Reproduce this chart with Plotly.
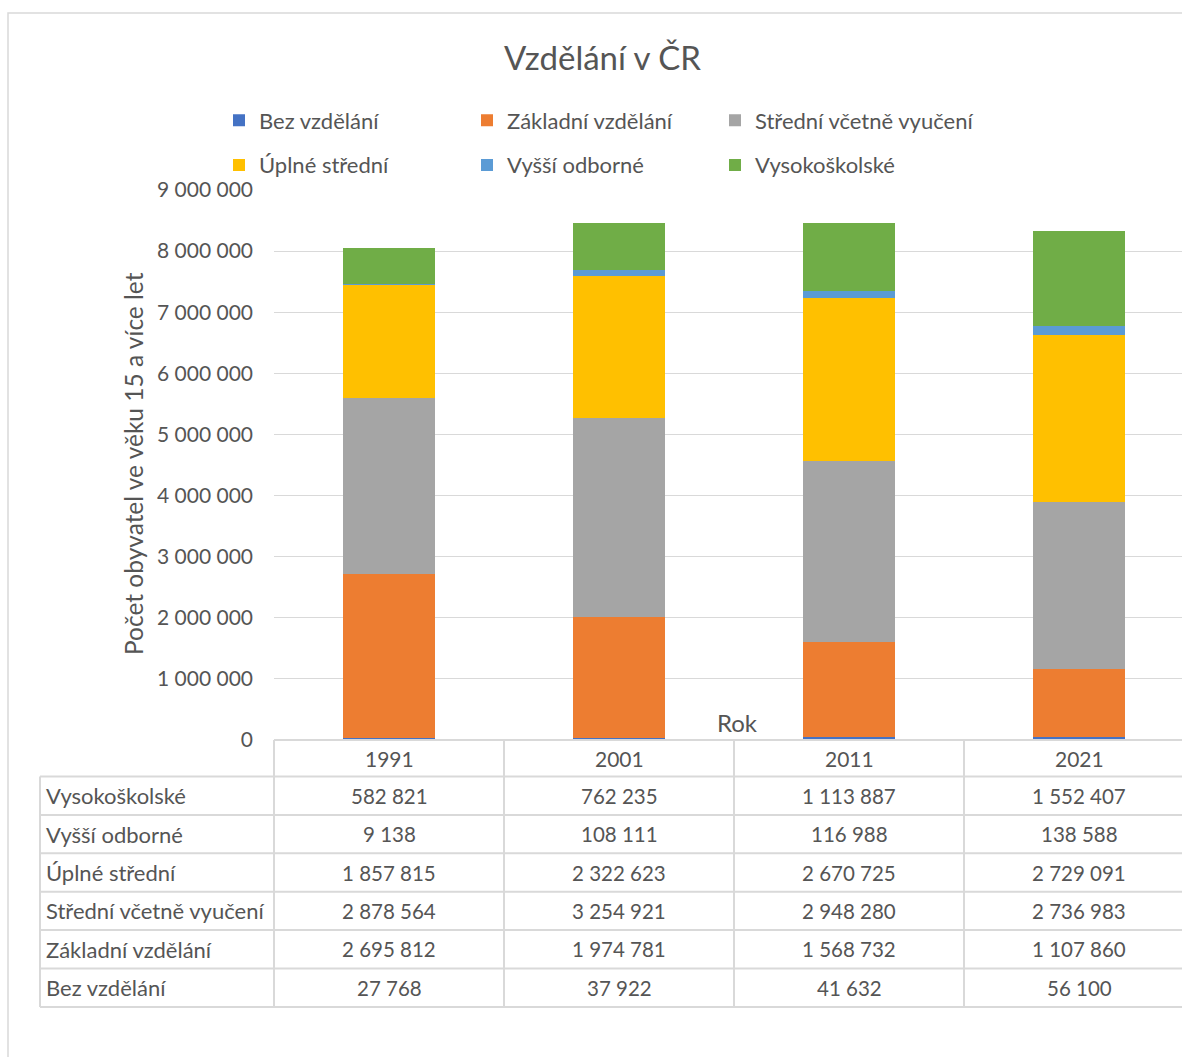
import plotly.graph_objects as go

# ---------------- data ----------------
years = ["1991", "2001", "2011", "2021"]
series_names = ["Bez vzdělání", "Základní vzdělání", "Střední včetně vyučení",
                "Úplné střední", "Vyšší odborné", "Vysokoškolské"]
bez_vzdelani = [27768, 37922, 41632, 56100]
zakladni = [2695812, 1974781, 1568732, 1107860]
stredni_vcetne_vyuceni = [2878564, 3254921, 2948280, 2736983]
uplne_stredni = [1857815, 2322623, 2670725, 2729091]
vyssi_odborne = [9138, 108111, 116988, 138588]
vysokoskolske = [582821, 762235, 1113887, 1552407]
y_tick_values = [0, 1000000, 2000000, 3000000, 4000000, 5000000,
                 6000000, 7000000, 8000000, 9000000]
title_text = "Vzdělání v ČR"
y_title = "Počet obyvatel ve věku 15 a více let"
x_title = "Rok"

series_values = [bez_vzdelani, zakladni, stredni_vcetne_vyuceni,
                 uplne_stredni, vyssi_odborne, vysokoskolske]
colors = ["#4472C4", "#ED7D31", "#A5A5A5", "#FFC000", "#5B9BD5", "#70AD47"]

# ---------------- layout geometry ----------------
W, H = 1182, 1057
L, T = 274, 190          # plot area left / top (px)
PB = 740                 # plot area bottom (px)
PW = W - L
PH = PB - T
CAT_W = 230              # px per category
X_RANGE = [-0.5, -0.5 + PW / CAT_W]

FONT = "Lato, 'Open Sans', sans-serif"
TXT = "#555555"
GRID = "#D9D9D9"


def px_x(px):
    return (px - L) / PW


def px_y(py):
    return (PB - py) / PH


def cat_x(d):
    return (d - X_RANGE[0]) / (X_RANGE[1] - X_RANGE[0])


def fmt(v):
    return f"{v:,}".replace(",", " ")


# legend layout: 3 columns x 2 rows, one vertical legend per column
legend_ids = ["legend", "legend2", "legend3"]

fig = go.Figure()
for i, (name, vals, col) in enumerate(zip(series_names, series_values, colors)):
    fig.add_trace(go.Bar(
        x=years, y=vals, name=name,
        marker=dict(color=col, line=dict(width=0)),
        legend=legend_ids[i % 3],
        legendgroup=f"g{i}",
        legendrank=i,
        hovertemplate="%{x}: %{y:,}<extra>" + name + "</extra>",
    ))

shapes = []
annotations = []

# outer chart border
shapes.append(dict(type="rect", xref="paper", yref="paper",
                   x0=px_x(8), x1=px_x(W + 20), y0=px_y(13), y1=px_y(H + 20),
                   line=dict(color=GRID, width=1.5), layer="below"))

# ---------------- data table ----------------
row_h = 38.4
header_top = PB
header_bot = 776.5
n_rows = len(series_names)
table_bottom = header_bot + n_rows * row_h
label_left = 40
right_edge = W + 20
line_style = dict(color=GRID, width=2)

# horizontal lines
shapes.append(dict(type="line", xref="paper", yref="paper",
                   x0=px_x(L), x1=px_x(right_edge), y0=px_y(header_top), y1=px_y(header_top),
                   line=line_style))
for k in range(n_rows + 1):
    yy = header_bot + k * row_h
    shapes.append(dict(type="line", xref="paper", yref="paper",
                       x0=px_x(label_left), x1=px_x(right_edge), y0=px_y(yy), y1=px_y(yy),
                       line=line_style))
# vertical lines
shapes.append(dict(type="line", xref="paper", yref="paper",
                   x0=px_x(label_left), x1=px_x(label_left),
                   y0=px_y(header_bot), y1=px_y(table_bottom), line=line_style))
for j in range(len(years) + 1):
    xx = cat_x(-0.5 + j)
    shapes.append(dict(type="line", xref="paper", yref="paper",
                       x0=xx, x1=xx, y0=px_y(header_top), y1=px_y(table_bottom),
                       line=line_style))

# header labels
for j, yr in enumerate(years):
    annotations.append(dict(x=cat_x(j), y=px_y((header_top + header_bot) / 2),
                            xref="paper", yref="paper", text=yr, showarrow=False,
                            xanchor="center", yanchor="middle",
                            font=dict(family=FONT, size=21, color=TXT)))
# rows (reverse order of series)
for r, s in enumerate(reversed(range(n_rows))):
    yc = header_bot + (r + 0.5) * row_h
    annotations.append(dict(x=px_x(44), y=px_y(yc), xref="paper", yref="paper",
                            text=series_names[s], showarrow=False,
                            xanchor="left", yanchor="middle",
                            font=dict(family=FONT, size=22, color=TXT)))
    for j in range(len(years)):
        annotations.append(dict(x=cat_x(j), y=px_y(yc), xref="paper", yref="paper",
                                text=fmt(series_values[s][j]), showarrow=False,
                                xanchor="center", yanchor="middle",
                                font=dict(family=FONT, size=20.5, color=TXT)))

# axis titles
annotations.append(dict(x=px_x(133), y=px_y(464), xref="paper", yref="paper",
                        text=y_title, textangle=-90, showarrow=False,
                        xanchor="center", yanchor="middle",
                        font=dict(family=FONT, size=24.5, color=TXT)))
annotations.append(dict(x=px_x(737), y=px_y(722), xref="paper", yref="paper",
                        text=x_title, showarrow=False,
                        xanchor="center", yanchor="middle",
                        font=dict(family=FONT, size=24, color=TXT)))
# title
annotations.append(dict(x=px_x(602), y=px_y(57), xref="paper", yref="paper",
                        text=title_text, showarrow=False,
                        xanchor="center", yanchor="middle",
                        font=dict(family=FONT, size=33, color=TXT)))

legend_common = dict(orientation="v", xanchor="left", yanchor="middle",
                     bgcolor="rgba(0,0,0,0)", tracegroupgap=13,
                     font=dict(family=FONT, size=22, color=TXT),
                     traceorder="grouped", itemclick=False, itemdoubleclick=False)
legend_x0 = 219
legend_step = 248
legend_yc = 143

fig.update_layout(
    width=W, height=H,
    margin=dict(l=L, r=0, t=T, b=H - PB, pad=0),
    paper_bgcolor="white", plot_bgcolor="white",
    barmode="stack", bargap=0.6,
    separators=", ",
    showlegend=True,
    legend=dict(x=px_x(legend_x0), y=px_y(legend_yc), **legend_common),
    legend2=dict(x=px_x(legend_x0 + legend_step), y=px_y(legend_yc), **legend_common),
    legend3=dict(x=px_x(legend_x0 + 2 * legend_step), y=px_y(legend_yc), **legend_common),
    xaxis=dict(type="category", range=X_RANGE, showticklabels=False,
               showgrid=False, zeroline=False, showline=False, ticks=""),
    yaxis=dict(range=[0, 9000000], tickvals=y_tick_values, tickformat=",d",
               showgrid=True, gridcolor=GRID, gridwidth=1.2, zeroline=False,
               showline=False, ticks="", ticklabelstandoff=20,
               tickfont=dict(family=FONT, size=21, color=TXT)),
    shapes=shapes,
    annotations=annotations,
    font=dict(family=FONT, color=TXT),
)

fig.write_html("out.html")
